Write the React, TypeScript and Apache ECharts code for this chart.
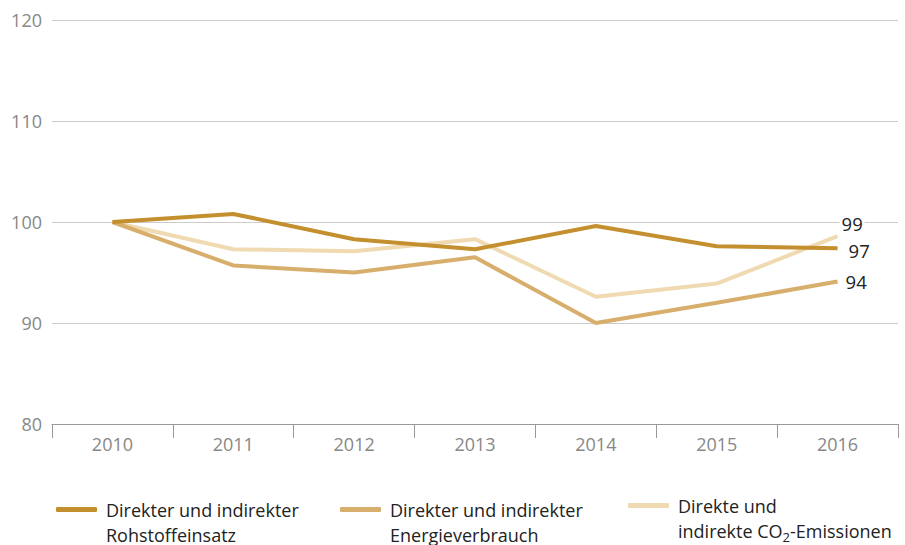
import React, { useEffect, useRef } from "react";
import * as echarts from "echarts";

const years = ["2010", "2011", "2012", "2013", "2014", "2015", "2016"];
const rohstoff = [100, 100.8, 98.3, 97.3, 99.6, 97.6, 97.4];
const energie = [100, 95.7, 95.0, 96.5, 90.0, 92.0, 94.1];
const co2 = [100, 97.3, 97.1, 98.3, 92.6, 93.9, 98.6];

const seriesNames = [
  "Direkter und indirekter\nRohstoffeinsatz",
  "Direkter und indirekter\nEnergieverbrauch",
  "Direkte und\nindirekte CO{sub|2}-Emissionen",
];
const colors = ["#C48F2E", "#D7AE6C", "#EFDAB2"];

const FONT = "'Open Sans', sans-serif";

function endLabel(distance: number, offset: number[]) {
  return {
    show: true,
    distance,
    offset,
    formatter: (p: any) => String(Math.round(Array.isArray(p.value) ? p.value[1] : p.value)),
    color: "#222",
    fontSize: 18.5,
    fontFamily: FONT,
    backgroundColor: "#fff",
    padding: [0, 2],
  };
}

export default function App() {
  const ref = useRef<HTMLDivElement>(null);
  useEffect(() => {
    document.body.style.margin = "0";
    const chart = echarts.init(ref.current!, null, { renderer: "svg" });
    const legendBase = (i: number, left: number, top: number, w: number) => ({
      data: [seriesNames[i]],
      left,
      top,
      padding: 0,
      icon: "roundRect",
      itemWidth: w,
      itemHeight: 5,
      selectedMode: false,
      textStyle: {
        color: "#222",
        fontSize: 18,
        fontFamily: FONT,
        lineHeight: 25,
        padding: [25, 0, 0, 4],
        rich: {
          sub: { fontSize: 13, verticalAlign: "bottom", padding: [11, 0, 0, 0], color: "#222", fontFamily: FONT },
        },
      },
    });
    chart.setOption({
      animation: false,
      grid: { left: 52, right: 7, top: 20, height: 404 },
      xAxis: {
        type: "category",
        data: years,
        boundaryGap: true,
        axisLine: { show: true, lineStyle: { color: "#999", width: 1 } },
        axisTick: { show: true, length: 14, lineStyle: { color: "#999" } },
        axisLabel: { color: "#888", fontSize: 18, fontFamily: FONT, margin: 11 },
      },
      yAxis: {
        type: "value",
        min: 80,
        max: 120,
        interval: 10,
        axisLine: { show: false },
        axisTick: { show: false },
        splitLine: { lineStyle: { color: "#cccccc", width: 1 } },
        axisLabel: { color: "#888", fontSize: 18, fontFamily: FONT, margin: 10 },
      },
      legend: [
        legendBase(0, 56, 472, 41),
        legendBase(1, 340, 472, 41),
        legendBase(2, 628, 468, 41),
      ],
      series: [
        {
          name: seriesNames[0],
          type: "line",
          data: rohstoff,
          color: colors[0],
          symbol: "none",
          lineStyle: { width: 4, color: colors[0] },
          endLabel: endLabel(9, [0, 2]),
          z: 3,
        },
        {
          name: seriesNames[1],
          type: "line",
          data: energie,
          color: colors[1],
          symbol: "none",
          lineStyle: { width: 4, color: colors[1] },
          endLabel: endLabel(6, [0, 0]),
          z: 2,
        },
        {
          name: seriesNames[2],
          type: "line",
          data: co2,
          color: colors[2],
          symbol: "none",
          lineStyle: { width: 4, color: colors[2] },
          endLabel: endLabel(2, [0, -13]),
          z: 1,
        },
      ],
    });
    return () => chart.dispose();
  }, []);
  return <div ref={ref} style={{ width: 905, height: 545 }} />;
}
